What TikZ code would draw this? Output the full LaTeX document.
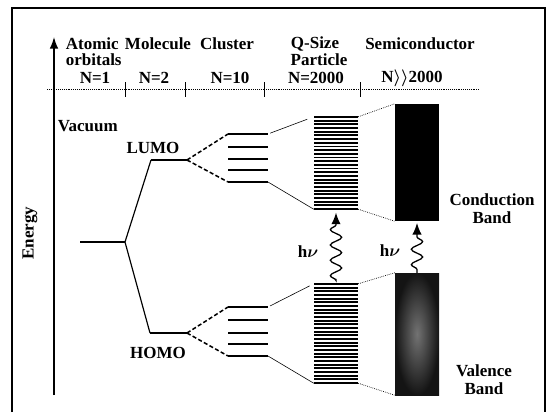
\documentclass[tikz,border=0pt]{standalone}
\usepackage{fontspec}
\setmainfont{Liberation Serif}
\usepackage{tikz}
\usetikzlibrary{arrows,arrows.meta,backgrounds}
\usetikzlibrary{decorations.pathmorphing}
\pgfdeclarelayer{edgelayer}
\pgfdeclarelayer{nodelayer}
\pgfsetlayers{background,edgelayer,nodelayer,main}
\tikzstyle{none}=[inner sep=0mm]
\tikzstyle{lab}=[inner sep=0.5mm,font=\fontsize{14.5}{16}\selectfont\bfseries\boldmath]
\tikzstyle{level}=[line width=1.5pt]
\tikzstyle{split}=[line width=1.3pt,dash pattern=on 3.5pt off 2pt]
\tikzstyle{thinline}=[line width=0.5pt]
\tikzstyle{dotline}=[line width=0.6pt,densely dotted]
\tikzstyle{band}=[line width=1.6pt]
\tikzstyle{stack}=[inner sep=0mm,minimum width=1.32cm]
\tikzstyle{cband}=[stack,fill=black]
\tikzstyle{vband}=[stack,inner color=black!55,outer color=black!92]
\tikzstyle{photon}=[-{Latex[length=3.5mm,width=2.8mm]},line width=1.1pt,decorate,decoration={snake,amplitude=1.7mm,segment length=4.6mm,pre length=1mm,post length=3.5mm}]

\begin{document}
\begin{tikzpicture}[x=0.03cm,y=-0.03cm]
	\useasboundingbox (0,0) rectangle (552,412);
	\draw [line width=1pt] (12,412) -- (12,8) -- (545,8) -- (545,412);
	\begin{pgfonlayer}{nodelayer}
		% axis and headings
		\node [style=none] (e0) at (54,395) {};
		\node [style=none] (e1) at (54,37) {};
		\node [style=lab,rotate=90] (energy) at (30,233) {Energy};
		\node [style=none] (d0) at (47,89) {};
		\node [style=none] (d1) at (480,89) {};
		\node [style=lab,anchor=west] (atomic) at (64,44) {Atomic};
		\node [style=lab,anchor=west] (orbitals) at (64,60) {orbitals};
		\node [style=lab] (n1) at (95,78) {N=1};
		\node [style=lab] (molecule) at (158,44) {Molecule};
		\node [style=lab] (n2) at (154,78) {N=2};
		\node [style=lab] (cluster) at (227,44) {Cluster};
		\node [style=lab] (n10) at (230,78) {N=10};
		\node [style=lab] (qsize) at (315,44) {Q-Size};
		\node [style=lab] (particle) at (319,60) {Particle};
		\node [style=lab] (n2000) at (316,78) {N=2000};
		\node [style=lab] (semi) at (420,44) {Semiconductor};
		\node [style=lab] (nbig) at (412,78) {N$\rangle\rangle$2000};
		\node [style=lab,anchor=west] (vacuum) at (56,126) {Vacuum};
		% molecular levels
		\node [style=none] (a1) at (80,242) {};
		\node [style=none] (a2) at (125,242) {};
		\node [style=none] (l1) at (151,160) {};
		\node [style=none] (l2) at (187,160) {};
		\node [style=none] (h1) at (150,333) {};
		\node [style=none] (h2) at (187,333) {};
		\node [style=lab] (lumo) at (153,148) {LUMO};
		\node [style=lab] (homo) at (158,353) {HOMO};
		\foreach \y [count=\i] in {134,147,159,170,182} {
			\node [style=none] (cl\i) at (228,\y) {};
			\node [style=none] (cr\i) at (268,\y) {};
		}
		\foreach \y [count=\i] in {307,320,333,344,356} {
			\node [style=none] (hl\i) at (228,\y) {};
			\node [style=none] (hr\i) at (268,\y) {};
		}
		% bands
		\node [style=stack,minimum height=2.76cm] (qu) at (336,163) {};
		\node [style=stack,minimum height=2.97cm] (ql) at (336,333.5) {};
		\node [style=cband,minimum height=3.51cm] (sc) at (417,162.5) {};
		\node [style=vband,minimum height=3.66cm] (sv) at (417,334) {};
		\node [style=lab] (hv1) at (308,252) {h$\nu$};
		\node [style=lab] (hv2) at (390,251) {h$\nu$};
		\node [style=lab] (cond) at (492,200) {Conduction};
		\node [style=lab] (cband) at (492,218) {Band};
		\node [style=lab] (val) at (484,371) {Valence};
		\node [style=lab] (vband) at (484,389) {Band};
	\end{pgfonlayer}
	\begin{pgfonlayer}{edgelayer}
		\draw [-{Latex[length=3.5mm,width=2.6mm]},line width=1.2pt] (e0.center) to (e1.center);
		\draw [dotline] (d0.center) to (d1.center);
		\foreach \x in {125,185,264,360}
			\draw [line width=0.8pt] (\x,82) -- (\x,97);
		\draw [level] (a1.center) to (a2.center);
		\draw [line width=1pt] (a2.center) to (l1.center);
		\draw [line width=1pt] (a2.center) to (h1.center);
		\draw [level] (l1.center) to (l2.center);
		\draw [level] (h1.center) to (h2.center);
		\draw [split] (l2.center) to (cl1.center);
		\draw [split] (l2.center) to (cl5.center);
		\draw [split] (h2.center) to (hl1.center);
		\draw [split] (h2.center) to (hl5.center);
		\foreach \i in {1,...,5} {
			\draw [level] (cl\i.center) to (cr\i.center);
			\draw [level] (hl\i.center) to (hr\i.center);
		}
		\foreach \i in {0,...,25}
			\draw [band] (314,{117+\i*3.68}) -- (358,{117+\i*3.68});
		\foreach \i in {0,...,27}
			\draw [band] (314,{284+\i*3.67}) -- (358,{284+\i*3.67});
		\draw [thinline,shorten <=2pt,shorten >=6pt] (cr1.center) to (qu.north west);
		\draw [thinline] (cr5.center) to (qu.south west);
		\draw [thinline,shorten <=2pt,shorten >=4pt] (hr1.center) to (ql.north west);
		\draw [thinline] (hr5.center) to (ql.south west);
		\draw [dotline] (qu.north east) to (sc.north west);
		\draw [dotline] (qu.south east) to (sc.south west);
		\draw [dotline] (ql.north east) to (sv.north west);
		\draw [dotline] (ql.south east) to (sv.south west);
		\draw [photon,shorten <=1.5mm,shorten >=1mm] (ql.north) to (qu.south);
		\draw [photon,shorten >=0.5mm] (sv.north) to (sc.south);
	\end{pgfonlayer}
\end{tikzpicture}
\end{document}
